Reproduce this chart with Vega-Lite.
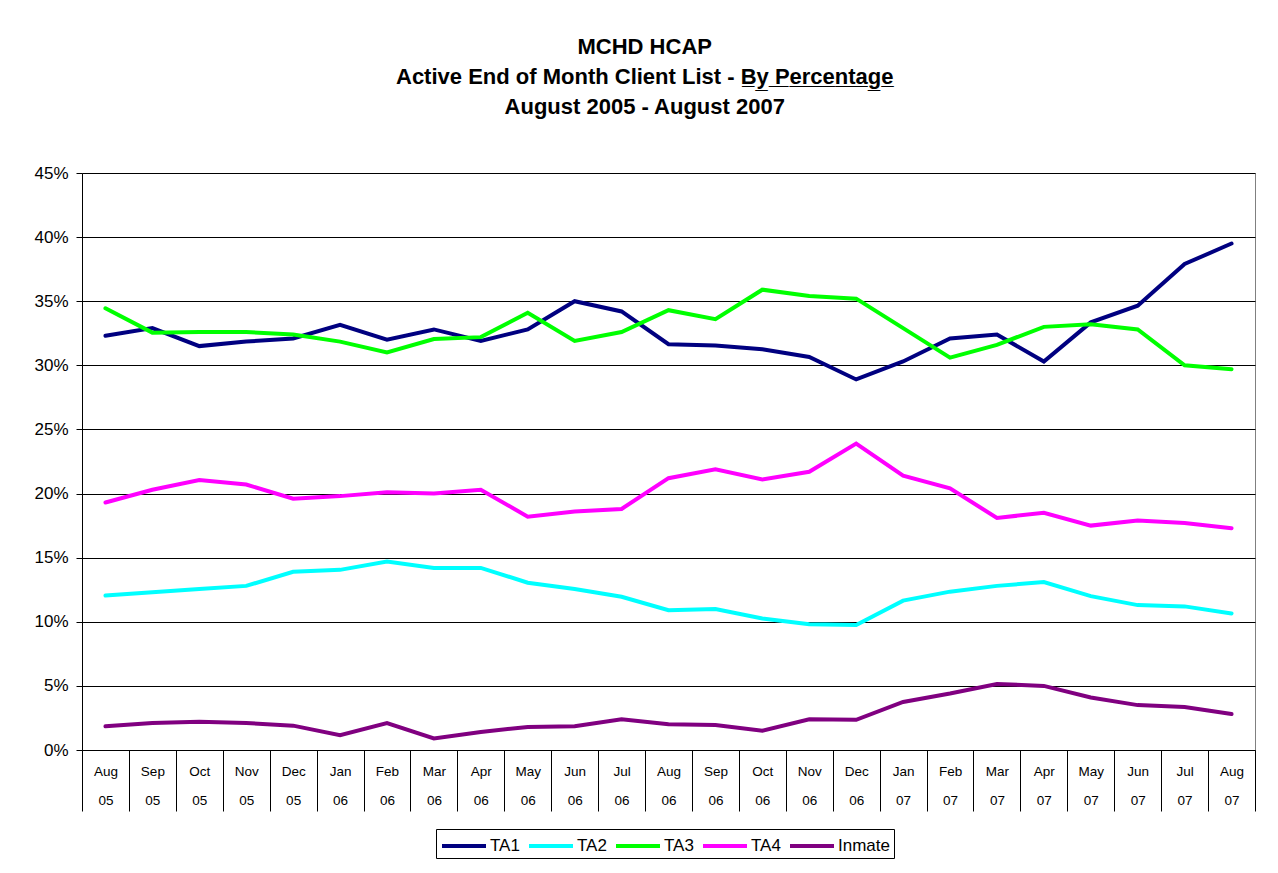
{
  "$schema": "https://vega.github.io/schema/vega-lite/v6.json",
  "width": 1173,
  "height": 577,
  "autosize": {"type": "none"},
  "padding": {"left": 82, "top": 173, "right": 23, "bottom": 123},
  "background": "white",
  "title": {
    "text": ["MCHD HCAP", "Active End of Month Client List - B\u0332y\u0332 \u0332P\u0332e\u0332r\u0332c\u0332e\u0332n\u0332t\u0332a\u0332g\u0332e\u0332", "August 2005 - August 2007"],
    "font": "Liberation Sans",
    "fontSize": 22,
    "fontWeight": "bold",
    "lineHeight": 30,
    "color": "black",
    "anchor": "middle",
    "frame": "bounds",
    "offset": 45
  },
  "data": {
    "values": [
      {"m": "Aug 05", "s": "TA1", "v": 32.3}, {"m": "Sep 05", "s": "TA1", "v": 32.9}, {"m": "Oct 05", "s": "TA1", "v": 31.5}, {"m": "Nov 05", "s": "TA1", "v": 31.85}, {"m": "Dec 05", "s": "TA1", "v": 32.1},
      {"m": "Jan 06", "s": "TA1", "v": 33.15}, {"m": "Feb 06", "s": "TA1", "v": 32.0}, {"m": "Mar 06", "s": "TA1", "v": 32.8}, {"m": "Apr 06", "s": "TA1", "v": 31.9}, {"m": "May 06", "s": "TA1", "v": 32.8},
      {"m": "Jun 06", "s": "TA1", "v": 35.0}, {"m": "Jul 06", "s": "TA1", "v": 34.2}, {"m": "Aug 06", "s": "TA1", "v": 31.65}, {"m": "Sep 06", "s": "TA1", "v": 31.55}, {"m": "Oct 06", "s": "TA1", "v": 31.25},
      {"m": "Nov 06", "s": "TA1", "v": 30.65}, {"m": "Dec 06", "s": "TA1", "v": 28.9}, {"m": "Jan 07", "s": "TA1", "v": 30.3}, {"m": "Feb 07", "s": "TA1", "v": 32.1}, {"m": "Mar 07", "s": "TA1", "v": 32.4},
      {"m": "Apr 07", "s": "TA1", "v": 30.3}, {"m": "May 07", "s": "TA1", "v": 33.35}, {"m": "Jun 07", "s": "TA1", "v": 34.65}, {"m": "Jul 07", "s": "TA1", "v": 37.9}, {"m": "Aug 07", "s": "TA1", "v": 39.5},

      {"m": "Aug 05", "s": "TA2", "v": 12.05}, {"m": "Sep 05", "s": "TA2", "v": 12.3}, {"m": "Oct 05", "s": "TA2", "v": 12.55}, {"m": "Nov 05", "s": "TA2", "v": 12.8}, {"m": "Dec 05", "s": "TA2", "v": 13.9},
      {"m": "Jan 06", "s": "TA2", "v": 14.05}, {"m": "Feb 06", "s": "TA2", "v": 14.7}, {"m": "Mar 06", "s": "TA2", "v": 14.2}, {"m": "Apr 06", "s": "TA2", "v": 14.2}, {"m": "May 06", "s": "TA2", "v": 13.05},
      {"m": "Jun 06", "s": "TA2", "v": 12.55}, {"m": "Jul 06", "s": "TA2", "v": 11.95}, {"m": "Aug 06", "s": "TA2", "v": 10.9}, {"m": "Sep 06", "s": "TA2", "v": 11.0}, {"m": "Oct 06", "s": "TA2", "v": 10.25},
      {"m": "Nov 06", "s": "TA2", "v": 9.8}, {"m": "Dec 06", "s": "TA2", "v": 9.75}, {"m": "Jan 07", "s": "TA2", "v": 11.65}, {"m": "Feb 07", "s": "TA2", "v": 12.35}, {"m": "Mar 07", "s": "TA2", "v": 12.8},
      {"m": "Apr 07", "s": "TA2", "v": 13.1}, {"m": "May 07", "s": "TA2", "v": 12.0}, {"m": "Jun 07", "s": "TA2", "v": 11.3}, {"m": "Jul 07", "s": "TA2", "v": 11.2}, {"m": "Aug 07", "s": "TA2", "v": 10.65},

      {"m": "Aug 05", "s": "TA3", "v": 34.45}, {"m": "Sep 05", "s": "TA3", "v": 32.55}, {"m": "Oct 05", "s": "TA3", "v": 32.6}, {"m": "Nov 05", "s": "TA3", "v": 32.6}, {"m": "Dec 05", "s": "TA3", "v": 32.4},
      {"m": "Jan 06", "s": "TA3", "v": 31.85}, {"m": "Feb 06", "s": "TA3", "v": 31.0}, {"m": "Mar 06", "s": "TA3", "v": 32.05}, {"m": "Apr 06", "s": "TA3", "v": 32.2}, {"m": "May 06", "s": "TA3", "v": 34.1},
      {"m": "Jun 06", "s": "TA3", "v": 31.9}, {"m": "Jul 06", "s": "TA3", "v": 32.6}, {"m": "Aug 06", "s": "TA3", "v": 34.3}, {"m": "Sep 06", "s": "TA3", "v": 33.6}, {"m": "Oct 06", "s": "TA3", "v": 35.9},
      {"m": "Nov 06", "s": "TA3", "v": 35.4}, {"m": "Dec 06", "s": "TA3", "v": 35.2}, {"m": "Jan 07", "s": "TA3", "v": 32.9}, {"m": "Feb 07", "s": "TA3", "v": 30.6}, {"m": "Mar 07", "s": "TA3", "v": 31.6},
      {"m": "Apr 07", "s": "TA3", "v": 33.0}, {"m": "May 07", "s": "TA3", "v": 33.2}, {"m": "Jun 07", "s": "TA3", "v": 32.8}, {"m": "Jul 07", "s": "TA3", "v": 30.0}, {"m": "Aug 07", "s": "TA3", "v": 29.7},

      {"m": "Aug 05", "s": "TA4", "v": 19.3}, {"m": "Sep 05", "s": "TA4", "v": 20.3}, {"m": "Oct 05", "s": "TA4", "v": 21.05}, {"m": "Nov 05", "s": "TA4", "v": 20.7}, {"m": "Dec 05", "s": "TA4", "v": 19.6},
      {"m": "Jan 06", "s": "TA4", "v": 19.8}, {"m": "Feb 06", "s": "TA4", "v": 20.1}, {"m": "Mar 06", "s": "TA4", "v": 20.0}, {"m": "Apr 06", "s": "TA4", "v": 20.3}, {"m": "May 06", "s": "TA4", "v": 18.2},
      {"m": "Jun 06", "s": "TA4", "v": 18.6}, {"m": "Jul 06", "s": "TA4", "v": 18.8}, {"m": "Aug 06", "s": "TA4", "v": 21.2}, {"m": "Sep 06", "s": "TA4", "v": 21.9}, {"m": "Oct 06", "s": "TA4", "v": 21.1},
      {"m": "Nov 06", "s": "TA4", "v": 21.7}, {"m": "Dec 06", "s": "TA4", "v": 23.9}, {"m": "Jan 07", "s": "TA4", "v": 21.4}, {"m": "Feb 07", "s": "TA4", "v": 20.4}, {"m": "Mar 07", "s": "TA4", "v": 18.1},
      {"m": "Apr 07", "s": "TA4", "v": 18.5}, {"m": "May 07", "s": "TA4", "v": 17.5}, {"m": "Jun 07", "s": "TA4", "v": 17.9}, {"m": "Jul 07", "s": "TA4", "v": 17.7}, {"m": "Aug 07", "s": "TA4", "v": 17.3},

      {"m": "Aug 05", "s": "Inmate", "v": 1.85}, {"m": "Sep 05", "s": "Inmate", "v": 2.1}, {"m": "Oct 05", "s": "Inmate", "v": 2.2}, {"m": "Nov 05", "s": "Inmate", "v": 2.1}, {"m": "Dec 05", "s": "Inmate", "v": 1.9},
      {"m": "Jan 06", "s": "Inmate", "v": 1.15}, {"m": "Feb 06", "s": "Inmate", "v": 2.1}, {"m": "Mar 06", "s": "Inmate", "v": 0.9}, {"m": "Apr 06", "s": "Inmate", "v": 1.4}, {"m": "May 06", "s": "Inmate", "v": 1.8},
      {"m": "Jun 06", "s": "Inmate", "v": 1.85}, {"m": "Jul 06", "s": "Inmate", "v": 2.4}, {"m": "Aug 06", "s": "Inmate", "v": 2.0}, {"m": "Sep 06", "s": "Inmate", "v": 1.95}, {"m": "Oct 06", "s": "Inmate", "v": 1.5},
      {"m": "Nov 06", "s": "Inmate", "v": 2.4}, {"m": "Dec 06", "s": "Inmate", "v": 2.35}, {"m": "Jan 07", "s": "Inmate", "v": 3.75}, {"m": "Feb 07", "s": "Inmate", "v": 4.4}, {"m": "Mar 07", "s": "Inmate", "v": 5.15},
      {"m": "Apr 07", "s": "Inmate", "v": 5.0}, {"m": "May 07", "s": "Inmate", "v": 4.1}, {"m": "Jun 07", "s": "Inmate", "v": 3.5}, {"m": "Jul 07", "s": "Inmate", "v": 3.35}, {"m": "Aug 07", "s": "Inmate", "v": 2.8}
    ]
  },
  "mark": {"type": "line", "strokeWidth": 4, "strokeCap": "round"},
  "encoding": {
    "x": {
      "field": "m",
      "type": "ordinal",
      "sort": null,
      "bandPosition": 0.5,
      "scale": {"type": "band", "paddingInner": 0, "paddingOuter": 0},
      "axis": {
        "title": null,
        "grid": false,
        "tickBand": "extent",
        "tickSize": 61,
        "tickColor": "black",
        "domainColor": "black",
        "labelAngle": 0,
        "labelFontSize": 13.5,
        "labelColor": "black",
        "labelBaseline": "middle",
        "labelLineHeight": 29,
        "labelPadding": -39.5,
        "labelExpr": "split(datum.label, ' ')"
      }
    },
    "y": {
      "field": "v",
      "type": "quantitative",
      "scale": {"domain": [0, 45], "nice": false},
      "axis": {
        "title": null,
        "values": [0, 5, 10, 15, 20, 25, 30, 35, 40, 45],
        "labelExpr": "datum.value + '%'",
        "grid": true,
        "gridColor": "black",
        "gridOpacity": 1,
        "tickSize": 6,
        "tickColor": "black",
        "domainColor": "black",
        "labelFontSize": 17,
        "labelColor": "black",
        "labelPadding": 8
      }
    },
    "color": {
      "field": "s",
      "type": "nominal",
      "scale": {
        "domain": ["TA1", "TA2", "TA3", "TA4", "Inmate"],
        "range": ["#000080", "#00FFFF", "#00FF00", "#FF00FF", "#800080"]
      },
      "legend": {
        "title": null,
        "orient": "none",
        "legendX": 354,
        "legendY": 656,
        "direction": "horizontal",
        "columns": 5,
        "strokeColor": "black",
        "fillColor": "white",
        "padding": 4,
        "symbolType": "M-1,0H3",
        "symbolSize": 484,
        "symbolStrokeWidth": 4,
        "labelFontSize": 17,
        "labelColor": "black",
        "labelOffset": 24,
        "columnPadding": 1
      }
    }
  },
  "config": {
    "font": "Liberation Sans",
    "view": {"stroke": "#808080", "strokeWidth": 1},
    "axis": {"labelFont": "Liberation Sans", "domainWidth": 1, "tickWidth": 1, "gridWidth": 1},
    "legend": {"labelFont": "Liberation Sans"}
  }
}
